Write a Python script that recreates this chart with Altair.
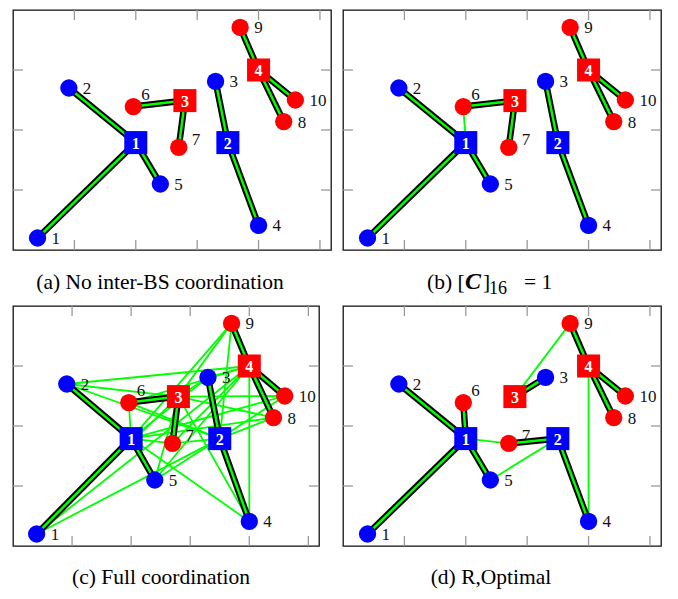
import altair as alt
import pandas as pd

# ---------------- data ----------------
user_ids = [1, 2, 3, 4, 5, 6, 7, 8, 9, 10]
user_x = [0.40, 0.91, 3.30, 4.00, 2.40, 1.96, 2.70, 4.41, 3.70, 4.60]
user_y = [0.20, 2.70, 2.81, 0.41, 1.10, 2.39, 1.71, 2.14, 3.71, 2.50]
user_cell = ["A", "A", "A", "A", "A", "B", "B", "B", "B", "B"]

bs_ids = [1, 2, 3, 4]
bs_x = [2.00, 3.50, 2.80, 4.00]
bs_y = [1.79, 1.79, 2.49, 3.00]
bs_cell = ["A", "A", "B", "B"]

x_ticks = [1, 2, 3, 4, 5]
y_ticks = [1, 2, 3]

# links as (BS, user): thick = serving, thin = coordination
thick_a = [(1, 1), (1, 2), (1, 5), (2, 3), (2, 4), (3, 6), (3, 7), (4, 8), (4, 9), (4, 10)]
thin_a = []
thick_b = thick_a
thin_b = [(1, 6)]
thick_c = thick_a
thin_c = [(b, u) for b in bs_ids for u in user_ids if (b, u) not in thick_a]
thick_d = [(1, 1), (1, 2), (1, 5), (1, 6), (2, 4), (2, 7), (3, 3), (4, 8), (4, 9), (4, 10)]
thin_d = [(1, 7), (2, 5), (3, 9), (4, 4)]

captions = ["(a) No inter-BS coordination", "(b) [C]16 = 1", "(c) Full coordination", "(d) R,Optimal"]

# ---------------- style ----------------
BLUE = "#0000ff"
RED = "#ff0000"
GREEN = "#00ff00"
FONT = "Liberation Serif"
CAP = 21.5

users_df = pd.DataFrame({"id": user_ids, "x": user_x, "y": user_y, "cell": user_cell,
                         "lbl": [str(i) for i in user_ids]})
bs_df = pd.DataFrame({"id": bs_ids, "x": bs_x, "y": bs_y, "cell": bs_cell,
                      "lbl": [str(i) for i in bs_ids]})
xt_df = pd.DataFrame({"v": x_ticks})
yt_df = pd.DataFrame({"v": y_ticks})

color_scale = alt.Scale(domain=["A", "B"], range=[BLUE, RED])


def edges_df(pairs):
    rows = []
    for b, u in pairs:
        rows.append({"bx": bs_x[b - 1], "by": bs_y[b - 1],
                     "ux": user_x[u - 1], "uy": user_y[u - 1], "k": f"{b}-{u}"})
    return pd.DataFrame(rows)


def panel(thick, thin, W, H, xmax, cap_layers):
    xs = alt.Scale(domain=[0, xmax], nice=False, zero=False)
    ys = alt.Scale(domain=[0, 4], nice=False, zero=False)
    X = lambda f: alt.X(f, scale=xs, axis=None)
    Y = lambda f: alt.Y(f, scale=ys, axis=None)
    layers = []
    if thin:
        layers.append(alt.Chart(edges_df(thin)).mark_rule(color=GREEN, strokeWidth=1.8).encode(
            x=X("bx:Q"), y=Y("by:Q"), x2="ux:Q", y2="uy:Q"))
    tdf = edges_df(thick)
    layers.append(alt.Chart(tdf).mark_rule(color="black", strokeWidth=6.5).encode(
        x=X("bx:Q"), y=Y("by:Q"), x2="ux:Q", y2="uy:Q"))
    layers.append(alt.Chart(tdf).mark_rule(color=GREEN, strokeWidth=2.5).encode(
        x=X("bx:Q"), y=Y("by:Q"), x2="ux:Q", y2="uy:Q"))
    layers.append(alt.Chart(users_df).mark_point(shape="circle", filled=True, opacity=1, size=300).encode(
        x=X("x:Q"), y=Y("y:Q"), color=alt.Color("cell:N", scale=color_scale, legend=None)))
    layers.append(alt.Chart(bs_df).mark_point(shape="square", filled=True, opacity=1, size=530).encode(
        x=X("x:Q"), y=Y("y:Q"), color=alt.Color("cell:N", scale=color_scale, legend=None)))
    layers.append(alt.Chart(bs_df).mark_text(font=FONT, fontSize=16, fontWeight="bold", color="white",
                                             baseline="middle", align="center", dy=1).encode(
        x=X("x:Q"), y=Y("y:Q"), text="lbl:N"))
    base_lbl = alt.Chart(users_df)
    layers.append(base_lbl.transform_filter("datum.id != 6 && datum.id != 7").mark_text(
        font=FONT, fontSize=17, align="left", baseline="middle", dx=14, dy=1, color="#111").encode(
        x=X("x:Q"), y=Y("y:Q"), text="lbl:N"))
    layers.append(base_lbl.transform_filter("datum.id == 6").mark_text(
        font=FONT, fontSize=17, align="left", baseline="middle", dx=8, dy=-12, color="#111").encode(
        x=X("x:Q"), y=Y("y:Q"), text="lbl:N"))
    layers.append(base_lbl.transform_filter("datum.id == 7").mark_text(
        font=FONT, fontSize=17, align="left", baseline="middle", dx=13, dy=-7, color="#111").encode(
        x=X("x:Q"), y=Y("y:Q"), text="lbl:N"))
    tick_style = dict(color="#999999", strokeWidth=1.3)
    layers.append(alt.Chart(xt_df).mark_rule(**tick_style).encode(
        x=X("v:Q"), y=alt.value(H), y2=alt.value(H - 10)))
    layers.append(alt.Chart(xt_df).mark_rule(**tick_style).encode(
        x=X("v:Q"), y=alt.value(0), y2=alt.value(10)))
    layers.append(alt.Chart(yt_df).mark_rule(**tick_style).encode(
        y=Y("v:Q"), x=alt.value(0), x2=alt.value(10)))
    layers.append(alt.Chart(yt_df).mark_rule(**tick_style).encode(
        y=Y("v:Q"), x=alt.value(W), x2=alt.value(W - 10)))
    layers.extend(cap_layers)
    return alt.layer(*layers).properties(width=W, height=H)


def cap(text, x, y, size=CAP, align="center", weight="normal", style="normal"):
    return alt.Chart(pd.DataFrame({"t": [text]})).mark_text(
        font=FONT, fontSize=size, align=align, baseline="alphabetic", color="black",
        fontWeight=weight, fontStyle=style).encode(
        x=alt.value(x), y=alt.value(y), text="t:N")


H = 240
cap_a = [cap(captions[0], 147, 279)]
cap_b = [
    cap("(b) [", 84, 279, align="left"),
    cap("C", 122, 279, size=24, align="left", weight="bold", style="italic"),
    cap("]", 140, 279, align="left"),
    cap("16", 146, 284, size=18, align="left"),
    cap("= 1", 181, 279, align="left"),
]
cap_c = [cap(captions[2], 148, 278)]
cap_d = [cap(captions[3], 148, 278)]

pa = panel(thick_a, thin_a, 318, H, 5.18, cap_a)
pb = panel(thick_b, thin_b, 318, H, 5.18, cap_b)
pc = panel(thick_c, thin_c, 306, H, 5.18, cap_c)
pd_ = panel(thick_d, thin_d, 318, H, 5.18, cap_d)

chart = alt.concat(pa, pb, pc, pd_, columns=2, spacing={"row": 56, "column": 12},
                   bounds="flush").properties(
    padding={"left": 3, "top": 0, "right": 5, "bottom": 5}
).configure_view(stroke="#111111", strokeWidth=1.3)

chart.save("out.html", embed_options={"renderer": "svg", "actions": False})
